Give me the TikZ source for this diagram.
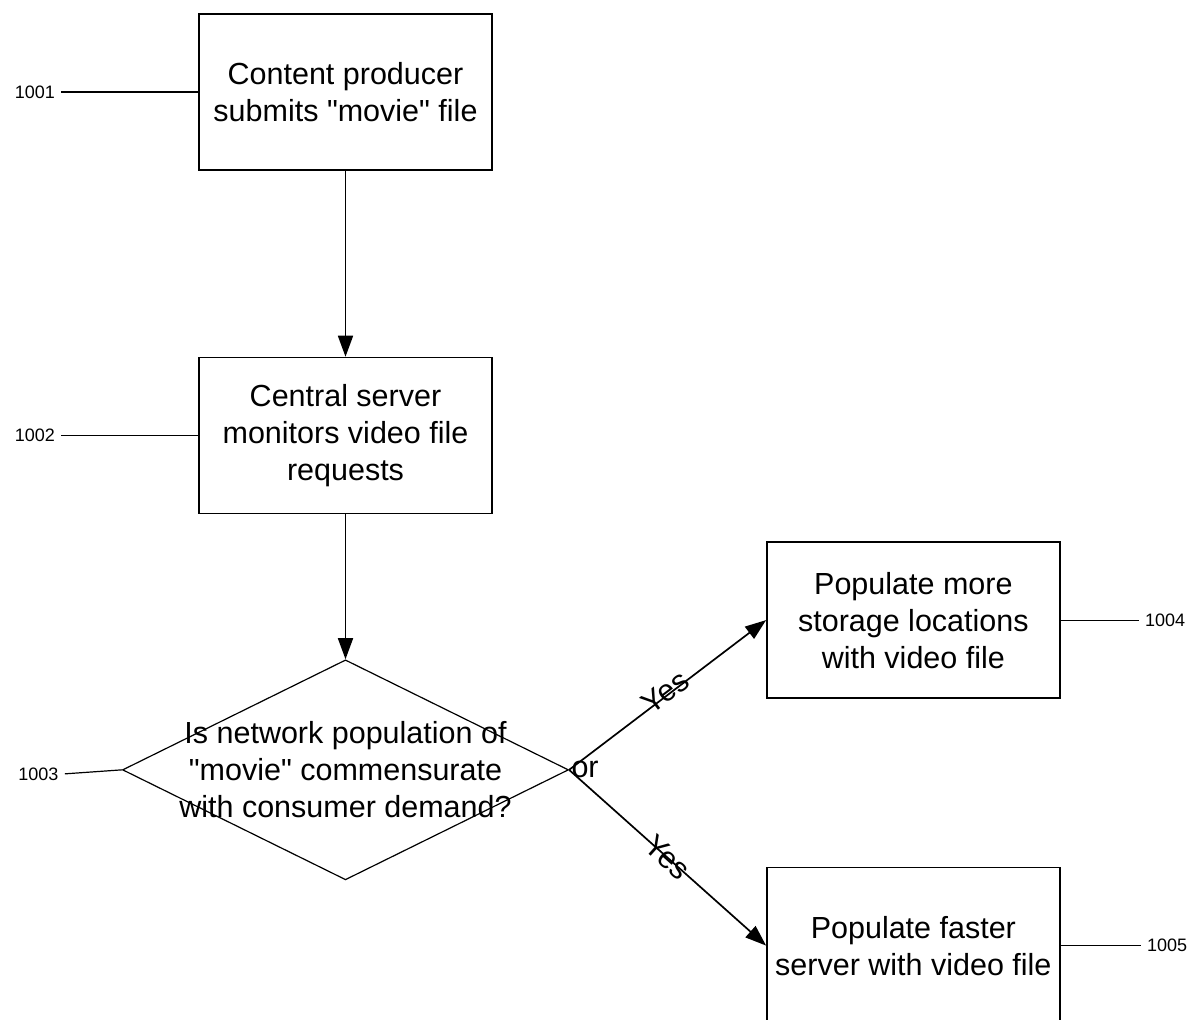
\documentclass[tikz,border=0pt]{standalone}
\usepackage{fontspec}
\setmainfont{Liberation Sans}
\usetikzlibrary{shapes,arrows.meta,positioning}

\tikzset{
  stepbox/.style={draw, line width=0.75pt, minimum width=146.5pt, minimum height=78pt, inner sep=0pt, align=center, font=\fontsize{15.25}{18.5}\selectfont},
  ask/.style={diamond, draw, line width=0.6pt, minimum width=223pt, minimum height=110pt, inner sep=0pt},
  asktext/.style={align=center, inner sep=0pt, font=\fontsize{15.25}{18.5}\selectfont},
  refno/.style={inner sep=3pt, font=\fontsize{9}{11}\selectfont},
  flow/.style={-{Triangle[length=10.5pt,width=7.5pt]}, line width=0.85pt},
  tick/.style={line width=0.6pt}
}

\begin{document}
\begin{tikzpicture}[x=0.5pt,y=-0.5pt]
\useasboundingbox (0,0) rectangle (1203,1020);
\node[stepbox] (p1) at (345.5,92) {Content producer\\submits \textquotedbl movie\textquotedbl{} file};
\node[stepbox, below=93pt of p1] (p2) {Central server\\monitors video file\\requests};
\node[ask, below=72.5pt of p2] (q) {};
\node[asktext] (qtext) at (q) {Is network population of\\\textquotedbl movie\textquotedbl{} commensurate\\with consumer demand?};
\node[stepbox, above right=35.5pt and 98.5pt of q.east] (p4) {Populate more\\storage locations\\with video file};
\node[stepbox, below=84pt of p4] (p5) {Populate faster\\server with video file};
\node[inner sep=1pt, anchor=west, font=\fontsize{15.25}{18.5}\selectfont] (or) at (q.east) {or};
\node[refno, left=68.5pt of p1] (l1) {1001};
\node[refno, left=68.5pt of p2] (l2) {1002};
\node[refno, left=28.5pt of q, yshift=-2pt] (l3) {1003};
\node[refno, right=39pt of p4] (l4) {1004};
\node[refno, right=40pt of p5] (l5) {1005};
\draw[flow] (p1) -- (p2);
\draw[flow] (p2) -- (q);
\draw[flow] (q.east) -- node[sloped, yshift=2pt, font=\fontsize{15.25}{18.5}\selectfont] {Yes} (p4.west);
\draw[flow] (q.east) -- node[sloped, font=\fontsize{15.25}{18.5}\selectfont] {Yes} (p5.west);
\draw[tick] (l1) -- (p1);
\draw[tick] (l2) -- (p2);
\draw[tick] (l3.east) -- (q.west);
\draw[tick] (l4) -- (p4);
\draw[tick] (l5) -- (p5);
\end{tikzpicture}
\end{document}
